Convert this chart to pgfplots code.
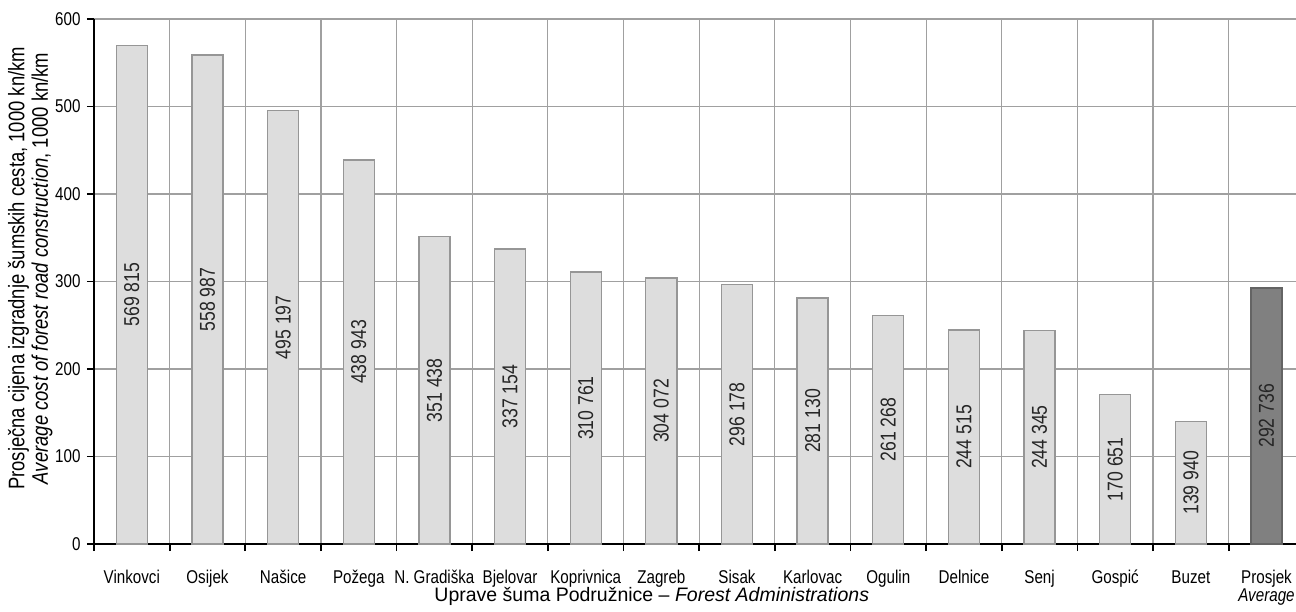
\documentclass[border=0pt]{standalone}
\usepackage{pgfplots}
\pgfplotsset{compat=1.18}
\usepackage{pgfplotstable}
\usepackage{fontspec}
\setmainfont{Liberation Sans}
\newfontfamily\narrowfont{Liberation Sans}[FakeStretch=0.82]

\definecolor{barfill}{RGB}{221,221,221}
\definecolor{bardraw}{RGB}{150,150,150}
\definecolor{avgfill}{RGB}{128,128,128}
\definecolor{avgdraw}{RGB}{100,100,100}
\definecolor{gridgray}{RGB}{160,160,160}

% cost in kn/km, bar height is raw/1000
\pgfplotstableread{
x raw
0 569815
1 558987
2 495197
3 438943
4 351438
5 337154
6 310761
7 304072
8 296178
9 281130
10 261268
11 244515
12 244345
13 170651
14 139940
}\costdata

\pgfplotstableread{
x raw
15 292736
}\avgdata

\newcommand\avglabel{{\def\arraystretch{0.86}\begin{tabular}[t]{@{}c@{}}Prosjek\\\textit{Average}\end{tabular}}}

\begin{document}
\begin{tikzpicture}
\begin{axis}[
    scale only axis,
    width=1202pt, height=525pt,
    xmin=-0.5, xmax=15.39,
    ymin=0, ymax=600,
    axis lines=left,
    axis line style={-, black, line width=2pt},
    ytick={0,100,...,600},
    xtick={-0.5,0.5,...,14.5},
    xticklabels={},
    xmajorgrids, ymajorgrids,
    grid style={gridgray, line width=1.2pt},
    tick align=outside,
    major tick length=7pt,
    tick style={black, line width=1.8pt},
    /pgf/number format/assume math mode=true,
    tick label style={font=\narrowfont\fontsize{18.5}{21}\selectfont},
    yticklabel style={xshift=-3pt},
    extra x ticks={0,1,...,15},
    extra x tick labels={Vinkovci,Osijek,Našice,Požega,N. Gradiška,Bjelovar,Koprivnica,Zagreb,Sisak,Karlovac,Ogulin,Delnice,Senj,Gospić,Buzet,\avglabel},
    extra x tick style={grid=none, major tick length=0pt,
        tick label style={anchor=base, yshift=-39pt}},
    every axis y label/.style={at={(axis description cs:-0.053,0.525)}, rotate=90, anchor=center},
    ylabel style={align=center, font=\narrowfont\fontsize{22.5}{23.5}\selectfont},
    ylabel={Prosječna cijena izgradnje šumskih cesta, 1000 kn/km\\\textit{Average cost of forest road construction}, 1000 kn/km},
    every axis x label/.style={at={(axis description cs:0.464,-0.1)}, anchor=center},
    xlabel style={font=\fontsize{19.5}{20}\selectfont},
    xlabel={Uprave šuma Podružnice – \textit{Forest Administrations}},
]
\addplot[ybar, bar width=0.41, fill=barfill, draw=bardraw, line width=1.3pt]
    table[x=x, y expr=\thisrow{raw}/1000] {\costdata};
\addplot[ybar, bar width=0.41, fill=avgfill, draw=avgdraw, line width=1.3pt]
    table[x=x, y expr=\thisrow{raw}/1000] {\avgdata};
\pgfplotsset{valuelabels/.style={draw=none, mark=none,
    point meta=explicit,
    nodes near coords={\pgfmathprintnumber[fixed, precision=0, 1000 sep={\ }]{\pgfplotspointmeta}},
    nodes near coords style={rotate=90, anchor=center, text=black!85,
        font=\narrowfont\fontsize{21.5}{23}\selectfont,
        /pgf/number format/assume math mode=true}}}
\addplot[valuelabels] table[x=x, y expr=\thisrow{raw}/2000, meta=raw] {\costdata};
\addplot[valuelabels] table[x=x, y expr=\thisrow{raw}/2000, meta=raw] {\avgdata};
\end{axis}
\pgfresetboundingbox
\path ([xshift=-94pt,yshift=-67pt]current axis.south west) rectangle ([yshift=19pt]current axis.north east);
\end{tikzpicture}
\end{document}
